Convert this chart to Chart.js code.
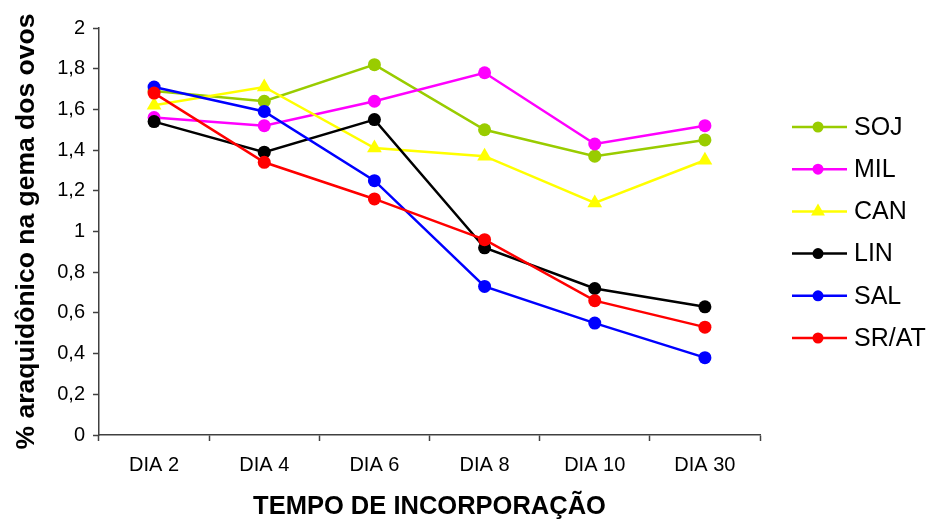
<!DOCTYPE html>
<html>
<head>
<meta charset="utf-8">
<script src="https://cdn.jsdelivr.net/npm/chart.js@4.4.1/dist/chart.umd.min.js"></script>
<style>
  html, body { margin: 0; padding: 0; background: #ffffff; }
  #wrap { width: 931px; height: 522px; position: relative; }
</style>
</head>
<body>
<div id="wrap"><canvas id="chart" width="931" height="522"></canvas></div>
<script>
// Days of incorporation
const categories = ['DIA 2', 'DIA 4', 'DIA 6', 'DIA 8', 'DIA 10', 'DIA 30'];

// % arachidonic acid in egg yolk, per oil source
const soj  = [1.69, 1.64, 1.82, 1.50, 1.37, 1.45];
const mil  = [1.56, 1.52, 1.64, 1.78, 1.43, 1.52];
const can  = [1.62, 1.71, 1.41, 1.37, 1.14, 1.35];
const lin  = [1.54, 1.39, 1.55, 0.92, 0.72, 0.63];
const sal  = [1.71, 1.59, 1.25, 0.73, 0.55, 0.38];
const srat = [1.68, 1.34, 1.16, 0.96, 0.66, 0.53];

const seriesNames = ['SOJ', 'MIL', 'CAN', 'LIN', 'SAL', 'SR/AT'];
const yTicks = [0, 0.2, 0.4, 0.6, 0.8, 1, 1.2, 1.4, 1.6, 1.8, 2];

const FONT = "'Liberation Sans', Arial, Helvetica, sans-serif";
const AXIS = '#404040';

function makeSet(label, data, color, shape, radius, idx) {
  return {
    label, data,
    borderColor: color,
    backgroundColor: color,
    borderWidth: 2.5,
    pointStyle: shape,
    pointRadius: radius,
    pointHoverRadius: radius,
    pointBorderWidth: 0,
    pointBackgroundColor: color,
    tension: 0,
    order: 10 - idx
  };
}

const datasets = [
  makeSet(seriesNames[0], soj,  '#99CC00', 'circle',   6.5, 0),
  makeSet(seriesNames[1], mil,  '#FF00FF', 'circle',   6.5, 1),
  makeSet(seriesNames[2], can,  '#FFFF00', 'triangle', 8.5, 2),
  makeSet(seriesNames[3], lin,  '#000000', 'circle',   6.5, 3),
  makeSet(seriesNames[4], sal,  '#0000FF', 'circle',   6.5, 4),
  makeSet(seriesNames[5], srat, '#FF0000', 'circle',   6.5, 5)
];

// Legend drawn at the right of the plot, one row per series
const sideLegend = {
  id: 'sideLegend',
  afterDraw(chart) {
    const ctx = chart.ctx;
    const x0 = 792, x1 = 847, xm = 818, xt = 854;
    const y0 = 127, dy = 42.2;
    ctx.save();
    chart.data.datasets.forEach((ds, i) => {
      const y = y0 + i * dy;
      ctx.strokeStyle = ds.borderColor;
      ctx.lineWidth = 2.5;
      ctx.beginPath();
      ctx.moveTo(x0, y);
      ctx.lineTo(x1, y);
      ctx.stroke();
      ctx.fillStyle = ds.backgroundColor;
      Chart.helpers.drawPoint(ctx, {
        pointStyle: ds.pointStyle,
        radius: ds.pointStyle === 'triangle' ? 8 : 5.5,
        rotation: 0,
        borderWidth: 0
      }, xm, y);
      ctx.fillStyle = '#000000';
      ctx.font = '25px ' + FONT;
      ctx.textBaseline = 'middle';
      ctx.textAlign = 'left';
      ctx.fillText(ds.label, xt, y + 1);
    });
    ctx.restore();
  }
};

new Chart(document.getElementById('chart'), {
  type: 'line',
  data: { labels: categories, datasets },
  options: {
    responsive: false,
    animation: false,
    devicePixelRatio: 1,
    layout: { padding: { top: 28, right: 171, left: 0, bottom: 0 } },
    plugins: {
      legend: { display: false },
      tooltip: { enabled: false }
    },
    scales: {
      x: {
        type: 'category',
        offset: true,
        grid: {
          offset: true,
          drawOnChartArea: false,
          drawTicks: true,
          tickLength: 6,
          tickColor: AXIS,
          tickWidth: 1.5
        },
        border: { display: true, color: AXIS, width: 1.5 },
        ticks: {
          color: '#000000',
          font: { family: FONT, size: 20 },
          padding: 12,
          maxRotation: 0,
          autoSkip: false
        },
        title: {
          display: true,
          text: 'TEMPO DE INCORPORAÇÃO',
          color: '#000000',
          font: { family: FONT, size: 25.5, weight: 'bold' },
          padding: { top: 0, bottom: 0 }
        },
        afterFit(scale) { scale.height = 87; }
      },
      y: {
        min: 0,
        max: 2,
        afterBuildTicks(scale) {
          scale.ticks = yTicks.map(v => ({ value: v }));
        },
        grid: {
          drawOnChartArea: false,
          drawTicks: true,
          tickLength: 6,
          tickColor: AXIS,
          tickWidth: 1.5
        },
        border: { display: true, color: AXIS, width: 1.5 },
        ticks: {
          color: '#000000',
          font: { family: FONT, size: 20 },
          padding: 8,
          callback: v => String(Math.round(v * 10) / 10).replace('.', ',')
        },
        title: {
          display: true,
          text: '% araquidônico na gema dos ovos',
          color: '#000000',
          font: { family: FONT, size: 26.5, weight: 'bold' },
          padding: { top: 11, bottom: 0 }
        },
        afterFit(scale) { scale.width = 99; }
      }
    }
  },
  plugins: [sideLegend]
});
</script>
</body>
</html>
